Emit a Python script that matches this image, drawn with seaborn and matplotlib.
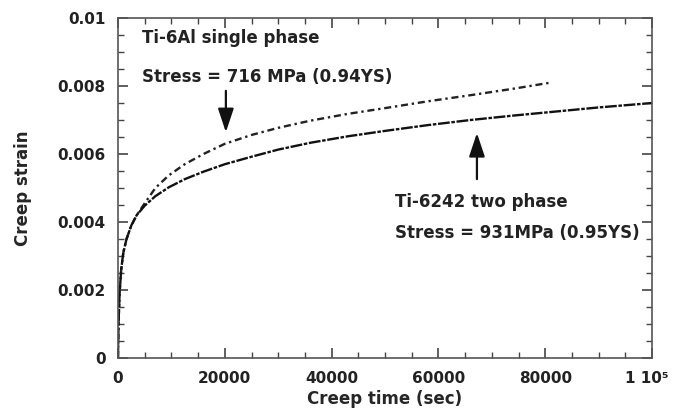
import numpy as np
import pandas as pd
import seaborn as sns
import matplotlib.pyplot as plt
import matplotlib.transforms as mtransforms
from matplotlib.ticker import MultipleLocator

# creep curves (time in s, strain)
t_6al = [0, 100, 300, 600, 1000, 1600, 2500, 3500, 5000, 7000, 9500, 12500,
         16000, 20000, 25000, 30000, 36000, 43000, 50000, 58000, 66000, 74000,
         81000]
e_6al = [0, 0.0010, 0.0019, 0.0026, 0.0031, 0.0035, 0.0039, 0.0042, 0.00455,
         0.00500, 0.00537, 0.00570, 0.00600, 0.00630, 0.00656, 0.00677,
         0.00698, 0.00718, 0.00735, 0.00755, 0.00773, 0.00792, 0.0081]

t_6242 = [0, 100, 300, 600, 1000, 1600, 2500, 3500, 5000, 7000, 9500, 12500,
          16000, 20000, 25000, 30000, 36000, 43000, 50000, 58000, 66000, 74000,
          82000, 90000, 100000]
e_6242 = [0, 0.0010, 0.0019, 0.0026, 0.0031, 0.0035, 0.0039, 0.0042, 0.00448,
          0.00476, 0.00502, 0.00526, 0.00548, 0.0057, 0.00592, 0.00613,
          0.00633, 0.00652, 0.00668, 0.00685, 0.00700, 0.00713, 0.00725,
          0.00737, 0.0075]

x_ticks = [0, 20000, 40000, 60000, 80000, 100000]
x_labels = ["0", "20000", "40000", "60000", "80000", "1 10\u2075"]
y_ticks = [0, 0.002, 0.004, 0.006, 0.008, 0.01]
y_labels = ["0", "0.002", "0.004", "0.006", "0.008", "0.01"]

df = pd.concat([
    pd.DataFrame({"time": t_6al, "strain": e_6al, "alloy": "Ti-6Al"}),
    pd.DataFrame({"time": t_6242, "strain": e_6242, "alloy": "Ti-6242"}),
])

sns.set_theme(style="ticks")
plt.rcParams['font.family'] = ['DejaVu Sans']
plt.rcParams['font.weight'] = 'bold'

fi = plt.figure(figsize=(6.73, 4.16), dpi=100)
ax = fi.add_axes([0.1753, 0.1394, 0.7937, 0.8173])

sns.lineplot(  data=df
             , x="time"
             , y="strain"
             , hue="alloy"
             , style="alloy"
             , palette={"Ti-6Al": "#222222", "Ti-6242": "#111111"}
             , dashes={"Ti-6Al": (3, 1.6, 1, 1.6), "Ti-6242": (5, 0.7, 1.5, 0.7)}
             , linewidth=1.7
             , legend=False
             , sort=False
             , ax=ax
            )

ax.set_xlim(0, 100000)
ax.set_ylim(0, 0.01)
ax.set_xticks(x_ticks)
ax.set_xticklabels(x_labels)
ax.set_yticks(y_ticks)
ax.set_yticklabels(y_labels)
ax.xaxis.set_minor_locator(MultipleLocator(5000))
ax.yaxis.set_minor_locator(MultipleLocator(0.0005))
ax.tick_params(  which='both'
               , direction='in'
               , top=True
               , right=True
               , labelsize=11
               , colors='#444444'
               , labelcolor='#222222'
              )
ax.tick_params(which='major', length=7, width=1.2)
ax.tick_params(which='minor', length=4, width=1.0)
ax.tick_params(axis='x', pad=9)
ax.tick_params(axis='y', pad=9)
for sp in ax.spines.values():
    sp.set_color('#555555')
    sp.set_linewidth(1.2)

# nudge the last x label so it stays inside the figure
last = ax.get_xticklabels()[-1]
last.set_transform(last.get_transform()
                   + mtransforms.ScaledTranslation(-5 / 100, 0, fi.dpi_scale_trans))

ax.set_xlabel("Creep time (sec)", fontsize=12, fontweight='bold', labelpad=3)
ax.set_ylabel("Creep strain", fontsize=12, fontweight='bold', labelpad=18)

txt = dict(fontsize=12, fontweight='bold', color='#222222')
ax.text(4500, 0.00941, "Ti-6Al single phase", ha='left', va='center', **txt)
ax.text(4500, 0.00826, "Stress = 716 MPa (0.94YS)", ha='left', va='center', **txt)
ax.text(51900, 0.00459, "Ti-6242 two phase", ha='left', va='center', **txt)
ax.text(51900, 0.00368, "Stress = 931MPa (0.95YS)", ha='left', va='center', **txt)

arrow = dict(arrowstyle='-|>,head_width=0.4,head_length=1.2', color='#111111', lw=1.6)
ax.annotate("", xy=(20200, 0.00656), xytext=(20200, 0.00794), arrowprops=arrow)
ax.annotate("", xy=(67200, 0.0067), xytext=(67200, 0.00518), arrowprops=arrow)

fi.savefig("out.png", dpi=100)
